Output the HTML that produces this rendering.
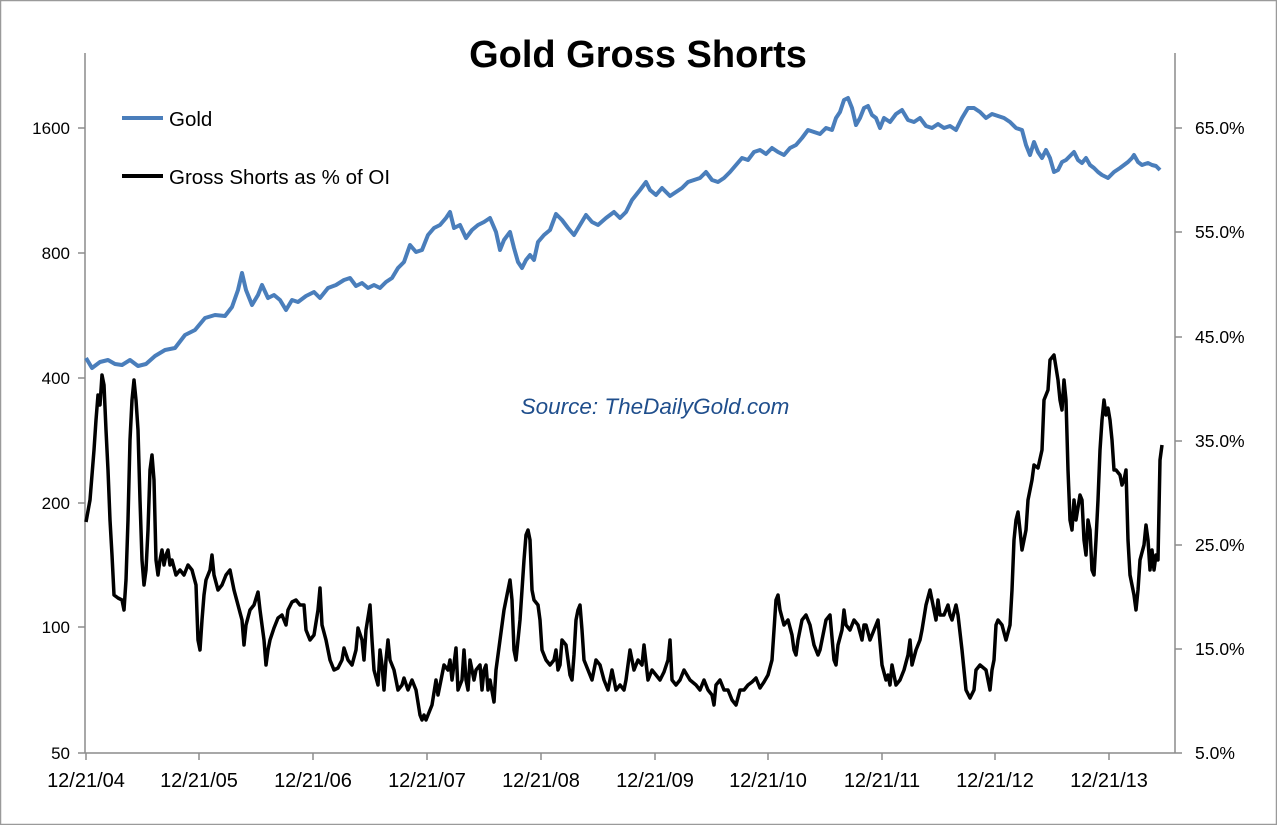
<!DOCTYPE html>
<html><head><meta charset="utf-8"><style>
html,body{margin:0;padding:0;background:#fff;}
svg{display:block;font-family:"Liberation Sans",sans-serif;}
</style></head><body>
<svg width="1277" height="825" viewBox="0 0 1277 825">
<rect x="0.5" y="0.5" width="1276" height="824" fill="#fff" stroke="#9a9a9a" stroke-width="1.5"/>
<text x="638" y="67" text-anchor="middle" font-size="38" font-weight="bold" fill="#000">Gold Gross Shorts</text>
<g stroke="#8c8c8c" stroke-width="1.5" fill="none">
<line x1="85" y1="53" x2="85" y2="753"/>
<line x1="1175" y1="53" x2="1175" y2="753"/>
<line x1="78" y1="753" x2="1182" y2="753"/>
<line x1="78" y1="128" x2="85" y2="128"/><line x1="78" y1="253" x2="85" y2="253"/><line x1="78" y1="378" x2="85" y2="378"/><line x1="78" y1="503" x2="85" y2="503"/><line x1="78" y1="627" x2="85" y2="627"/>
<line x1="1175" y1="128" x2="1182" y2="128"/><line x1="1175" y1="232" x2="1182" y2="232"/><line x1="1175" y1="337" x2="1182" y2="337"/><line x1="1175" y1="441" x2="1182" y2="441"/><line x1="1175" y1="545" x2="1182" y2="545"/><line x1="1175" y1="649" x2="1182" y2="649"/>
<line x1="86" y1="753" x2="86" y2="760"/><line x1="199" y1="753" x2="199" y2="760"/><line x1="313" y1="753" x2="313" y2="760"/><line x1="427" y1="753" x2="427" y2="760"/><line x1="541" y1="753" x2="541" y2="760"/><line x1="655" y1="753" x2="655" y2="760"/><line x1="768" y1="753" x2="768" y2="760"/><line x1="882" y1="753" x2="882" y2="760"/><line x1="995" y1="753" x2="995" y2="760"/><line x1="1109" y1="753" x2="1109" y2="760"/>
</g>
<g font-size="17" fill="#000" text-anchor="end">
<text x="70" y="134">1600</text><text x="70" y="259">800</text><text x="70" y="384">400</text><text x="70" y="509">200</text><text x="70" y="633">100</text><text x="70" y="759">50</text>
</g>
<g font-size="17.5" fill="#000" text-anchor="start">
<text x="1195" y="134">65.0%</text><text x="1195" y="238">55.0%</text><text x="1195" y="343">45.0%</text><text x="1195" y="447">35.0%</text><text x="1195" y="551">25.0%</text><text x="1195" y="655">15.0%</text><text x="1195" y="759">5.0%</text>
</g>
<g font-size="20" fill="#000" text-anchor="middle">
<text x="86" y="787">12/21/04</text><text x="199" y="787">12/21/05</text><text x="313" y="787">12/21/06</text><text x="427" y="787">12/21/07</text><text x="541" y="787">12/21/08</text><text x="655" y="787">12/21/09</text><text x="768" y="787">12/21/10</text><text x="882" y="787">12/21/11</text><text x="995" y="787">12/21/12</text><text x="1109" y="787">12/21/13</text>
</g>
<line x1="122" y1="118" x2="163" y2="118" stroke="#4a7ebb" stroke-width="4"/>
<text x="169" y="126" font-size="20.5">Gold</text>
<line x1="122" y1="176" x2="163" y2="176" stroke="#000" stroke-width="4"/>
<text x="169" y="184" font-size="20.5">Gross Shorts as % of OI</text>
<text x="655" y="414" text-anchor="middle" font-size="22.5" font-style="italic" fill="#1f4e8c">Source: TheDailyGold.com</text>
<polyline fill="none" stroke="#4a7ebb" stroke-width="4" stroke-linejoin="round" points="86,358 92,368 100,362 108,360 115,364 122,365 130,360 138,366 146,364 155,356 165,350 175,348 185,335 195,330 205,318 215,315 225,316 232,307 238,290 242,273 246,290 252,305 258,295 262,285 268,298 274,295 280,300 286,310 292,300 298,302 306,296 314,292 320,298 328,288 336,285 344,280 350,278 356,286 362,283 368,288 374,285 380,288 386,282 392,278 398,268 404,262 410,245 416,252 422,250 428,235 434,228 440,225 446,218 450,212 454,228 460,225 466,238 472,230 478,225 484,222 490,218 496,232 500,250 504,240 510,232 514,248 518,262 522,268 526,260 530,255 534,260 538,242 544,235 550,230 556,214 562,220 568,228 574,235 580,225 586,215 592,222 598,225 606,218 614,212 620,218 626,212 632,200 640,190 646,182 650,190 656,195 662,188 670,196 676,192 682,188 688,182 694,180 700,178 706,172 712,180 718,182 724,178 730,172 736,165 742,158 748,160 754,152 760,150 766,154 772,148 778,152 784,155 790,148 796,145 802,138 808,130 814,132 820,134 826,128 832,130 836,118 840,112 844,100 848,98 852,108 856,125 860,118 864,108 868,106 872,115 876,118 880,128 884,118 890,122 896,114 902,110 908,120 914,122 920,118 926,126 932,128 938,124 944,128 950,126 956,130 962,118 968,108 974,108 980,112 986,118 992,114 998,116 1004,118 1010,122 1016,128 1022,130 1026,145 1030,155 1034,142 1038,152 1042,158 1046,150 1050,158 1054,172 1058,170 1062,162 1066,160 1070,156 1074,152 1078,160 1082,163 1086,158 1090,165 1094,168 1098,172 1102,175 1108,178 1114,172 1120,168 1124,165 1128,162 1132,158 1134,155 1138,162 1142,165 1148,163 1152,165 1156,166 1160,170"/>
<polyline fill="none" stroke="#000" stroke-width="3.5" stroke-linejoin="round" points="86,522 90,500 94,450 96,420 98,395 100,405 102,375 104,385 106,430 108,470 110,520 112,555 114,595 118,598 122,600 124,610 126,580 128,520 130,440 132,400 134,380 136,400 138,430 140,500 142,560 144,585 146,570 148,530 150,470 152,455 154,480 156,560 158,575 160,560 162,550 164,565 166,555 168,550 170,565 172,560 176,575 180,570 184,575 188,565 192,570 196,585 198,640 200,650 202,620 204,595 206,580 208,575 210,570 212,555 214,575 218,590 222,585 226,575 230,570 234,590 238,605 242,620 244,645 246,625 250,610 254,605 258,592 260,610 264,640 266,665 268,650 270,640 274,628 278,618 282,615 286,625 288,610 292,602 296,600 300,605 304,605 306,630 310,640 314,635 318,610 320,588 322,625 326,640 330,660 334,670 338,668 342,660 344,648 348,660 352,665 356,650 358,628 362,640 364,660 366,630 370,605 372,640 374,670 378,685 380,650 382,665 384,690 386,660 388,640 390,660 394,670 398,690 402,685 404,678 408,690 412,680 416,690 420,715 422,720 424,715 426,720 428,715 432,705 436,680 438,695 440,685 444,665 448,670 450,660 452,680 456,648 458,690 462,680 464,650 466,680 468,690 470,660 474,680 476,670 480,665 482,690 484,670 486,665 488,690 490,680 494,702 496,670 500,640 504,610 508,590 510,580 512,600 514,650 516,660 518,640 520,620 524,560 526,535 528,530 530,540 532,590 534,600 538,605 540,620 542,650 546,660 550,665 554,660 556,650 558,670 560,665 562,640 566,645 570,675 572,680 574,655 576,620 578,610 580,605 582,630 584,660 588,670 592,680 596,660 600,665 604,680 608,690 612,670 616,690 620,685 624,690 626,680 630,650 634,670 638,660 642,665 644,645 648,680 652,670 656,675 660,680 664,672 668,660 670,640 672,680 676,685 680,680 684,670 690,680 696,685 700,690 704,680 708,690 712,695 714,705 716,685 720,680 724,690 728,690 732,700 736,705 740,690 744,690 748,685 752,682 756,678 760,688 764,682 768,675 772,660 774,630 776,600 778,595 780,610 784,625 788,620 792,635 794,650 796,655 798,640 802,620 806,615 810,625 814,645 818,655 820,650 822,640 826,620 830,615 834,660 836,665 838,645 842,630 844,610 846,625 850,630 854,620 858,625 862,640 864,625 866,625 870,640 874,630 878,620 882,665 886,680 888,675 890,685 892,665 896,685 900,680 904,670 908,655 910,640 912,665 916,650 920,640 922,630 926,605 930,590 934,610 936,620 938,600 940,615 944,615 948,605 950,615 952,620 956,605 958,615 962,650 966,690 970,698 974,690 976,670 980,665 986,670 990,690 992,670 994,660 996,625 998,620 1002,625 1006,640 1010,625 1012,590 1014,540 1016,520 1018,512 1020,530 1022,550 1024,540 1026,530 1028,500 1032,480 1034,465 1038,468 1042,450 1044,400 1048,390 1050,360 1054,355 1058,380 1060,400 1062,410 1064,380 1066,400 1068,470 1070,520 1072,530 1074,500 1076,520 1080,495 1082,500 1084,540 1086,555 1088,520 1090,530 1092,570 1094,575 1096,540 1098,500 1100,450 1102,420 1104,400 1106,415 1108,408 1110,420 1112,440 1114,470 1116,470 1120,475 1122,485 1124,480 1126,470 1128,540 1130,575 1134,595 1136,610 1138,590 1140,560 1144,545 1146,525 1148,540 1150,570 1152,550 1154,570 1156,555 1158,560 1160,460 1162,445"/>
</svg>
</body></html>
